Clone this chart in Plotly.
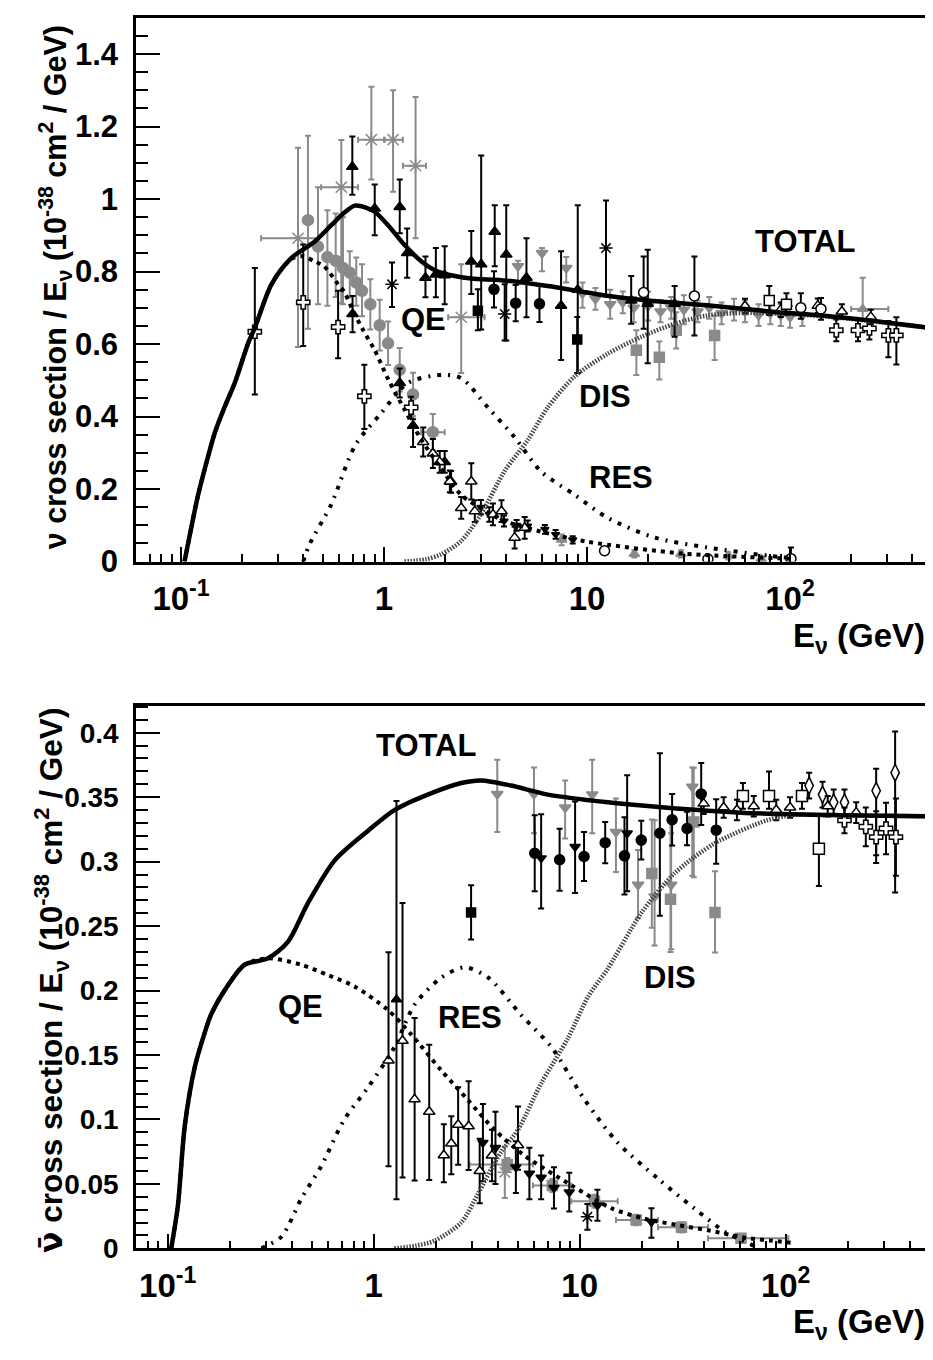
import plotly.graph_objects as go

# ---------------- TOP PANEL (neutrino) : model curves ----------------
top_total_E = [0.104, 0.112, 0.121, 0.133, 0.147, 0.165, 0.184, 0.214, 0.231, 0.279, 0.35, 0.456, 0.55, 0.63, 0.717,
               0.82, 0.9, 1.047, 1.26, 1.53, 1.84, 2.23, 2.69, 4.0, 6.4, 12, 20, 39, 80, 178, 518]
top_total_S = [0.0, 0.09, 0.18, 0.27, 0.357, 0.43, 0.493, 0.602, 0.645, 0.765, 0.838, 0.883, 0.928, 0.96, 0.982,
               0.976, 0.965, 0.928, 0.874, 0.828, 0.80, 0.788, 0.781, 0.775, 0.76, 0.735, 0.72, 0.707, 0.69, 0.674, 0.643]
top_qe_E = [0.104, 0.112, 0.121, 0.133, 0.147, 0.165, 0.184, 0.214, 0.231, 0.279, 0.35, 0.40, 0.455, 0.506, 0.594,
            0.64, 0.703, 0.79, 0.9, 1.05, 1.26, 1.52, 1.91, 2.4, 3.5, 4.0, 6.2, 10, 30, 100]
top_qe_S = [0.0, 0.09, 0.18, 0.27, 0.357, 0.43, 0.493, 0.602, 0.645, 0.765, 0.835, 0.842, 0.828, 0.815, 0.765,
            0.742, 0.692, 0.638, 0.583, 0.502, 0.42, 0.338, 0.257, 0.184, 0.125, 0.11, 0.08, 0.055, 0.022, 0.008]
top_res_E = [0.40, 0.43, 0.55, 0.72, 0.97, 1.31, 1.91, 2.4, 3.25, 4.4, 5.95, 8.7, 12.7, 21.6, 39, 78, 100]
top_res_S = [0.0, 0.048, 0.158, 0.32, 0.41, 0.493, 0.515, 0.506, 0.425, 0.343, 0.248, 0.184, 0.12, 0.066, 0.039,
             0.016, 0.01]
top_dis_E = [1.26, 1.6, 1.91, 2.4, 3.0, 3.93, 5.1, 6.4, 8.7, 12.7, 18.5, 27, 39, 60, 100, 178, 518]
top_dis_S = [0.0, 0.006, 0.02, 0.057, 0.13, 0.25, 0.335, 0.425, 0.511, 0.574, 0.62, 0.656, 0.679, 0.686, 0.683,
             0.672, 0.643]

# ---------------- TOP PANEL : data sets ----------------
t_gast_E = [0.377, 0.616, 0.866, 1.108, 1.43, 2.4]
t_gast_S = [0.892, 1.033, 1.164, 1.164, 1.092, 0.674]
t_gast_ep = [0.25, 0.13, 0.146, 0.136, 0.19, 0.146]
t_gast_em = [0.30, 0.32, 0.11, 0.144, 0.20, 0.154]
t_gast_xm = [0.129, 0.126, 0.121, 0.10, 0.19, 0.33]
t_gast_xp = [0.096, 0.129, 0.134, 0.13, 0.18, 0.73]

t_btri_E = [0.698, 0.9, 1.195, 1.30, 1.6, 1.8, 1.99, 2.69, 3.01, 3.51, 4.0, 5.03, 7.45, 9.0, 16.5, 19.9, 27.0,
            0.70, 1.195, 1.39, 1.99, 2.14]
t_btri_S = [1.089, 0.974, 0.978, 0.851, 0.783, 0.792, 0.79, 0.828, 0.82, 0.91, 0.847, 0.783, 0.706, 0.75, 0.72,
            0.711, 0.711, 0.683, 0.493, 0.375, 0.275, 0.22]
t_btri_ep = [0.084, 0.066, 0.076, 0.068, 0.059, 0.073, 0.08, 0.084, 0.30, 0.073, 0.136, 0.109, 0.15, 0.233, 0.068,
             0.149, 0.049, 0.05, 0.04, 0.018, 0.03, 0.03]
t_btri_em = [0.077, 0.074, 0.072, 0.068, 0.054, 0.063, 0.08, 0.09, 0.18, 0.095, 0.237, 0.109, 0.15, 0.23, 0.064,
             0.164, 0.091, 0.05, 0.04, 0.059, 0.03, 0.03]

t_gcir_E = [0.422, 0.473, 0.526, 0.578, 0.628, 0.678, 0.73, 0.779, 0.856, 0.952, 1.047, 1.195, 1.39, 1.74]
t_gcir_S = [0.942, 0.869, 0.84, 0.83, 0.81, 0.797, 0.77, 0.747, 0.71, 0.652, 0.602, 0.529, 0.461, 0.357]
t_gcir_ep = [0.233, 0.164, 0.129, 0.13, 0.14, 0.059, 0.069, 0.073, 0.069, 0.07, 0.06, 0.06, 0.06, 0.05]
t_gcir_em = [0.30, 0.159, 0.134, 0.10, 0.10, 0.068, 0.064, 0.07, 0.07, 0.07, 0.06, 0.06, 0.06, 0.05]
t_gcir_xm = [0, 0, 0, 0, 0, 0, 0, 0, 0, 0, 0, 0, 0, 0.22]
t_gcir_xp = [0, 0, 0, 0, 0, 0, 0, 0, 0, 0, 0, 0, 0, 0.25]

t_ocro_E = [0.231, 0.40, 0.594, 0.80, 1.36, 169, 216, 246, 305, 334]
t_ocro_S = [0.634, 0.715, 0.647, 0.456, 0.425, 0.638, 0.638, 0.643, 0.624, 0.624]
t_ocro_ep = [0.176, 0.16, 0.10, 0.087, 0.03, 0.03, 0.03, 0.03, 0.04, 0.05]
t_ocro_em = [0.173, 0.12, 0.086, 0.09, 0.03, 0.03, 0.03, 0.03, 0.06, 0.08]

t_otri_E = [1.56, 1.74, 1.88, 2.11, 2.4, 2.69, 2.8, 3.44, 3.79, 4.4, 4.93, 60, 90, 137, 180, 250]
t_otri_S = [0.33, 0.298, 0.275, 0.221, 0.148, 0.221, 0.139, 0.13, 0.139, 0.066, 0.093, 0.705, 0.695, 0.706, 0.69,
            0.675]
t_otri_e = [0.04, 0.04, 0.03, 0.03, 0.03, 0.05, 0.03, 0.03, 0.03, 0.03, 0.03, 0.02, 0.02, 0.02, 0.02, 0.02]

t_bcir_E = [3.48, 4.45, 5.83]
t_bcir_S = [0.751, 0.713, 0.711]
t_bcir_e = [0.05, 0.05, 0.05]

t_bsq_E = [2.9, 8.95]
t_bsq_S = [0.692, 0.613]
t_bsq_ep = [0.059, 0.062]
t_bsq_em = [0.054, 0.093]

t_gsq_E = [17.5, 22.7, 27.5, 42.5]
t_gsq_S = [0.583, 0.564, 0.638, 0.624]
t_gsq_ep = [0.055, 0.043, 0.05, 0.055]
t_gsq_em = [0.068, 0.062, 0.05, 0.068]

t_gtrd_E = [4.57, 6.0, 7.9, 9.5, 11, 13, 15, 17, 20, 23, 26, 30, 35, 40, 46, 53, 60, 70, 80, 90, 100, 115]
t_gtrd_S = [0.815, 0.851, 0.81, 0.74, 0.725, 0.71, 0.715, 0.70, 0.705, 0.69, 0.70, 0.695, 0.69, 0.70, 0.685, 0.695,
            0.69, 0.68, 0.685, 0.68, 0.675, 0.68]
t_gtrd_ep = [0.015, 0.014, 0.03, 0.03, 0.03, 0.04, 0.03, 0.03, 0.04, 0.03, 0.03, 0.04, 0.03, 0.03, 0.03, 0.03,
             0.03, 0.03, 0.03, 0.03, 0.03, 0.03]
t_gtrd_em = [0.05, 0.05, 0.04, 0.04, 0.03, 0.04, 0.03, 0.04, 0.04, 0.03, 0.03, 0.04, 0.03, 0.03, 0.03, 0.03,
             0.03, 0.03, 0.03, 0.03, 0.03, 0.03]

t_bast_E = [1.095, 3.93, 12.4]
t_bast_S = [0.765, 0.683, 0.865]
t_bast_ep = [0.06, 0.082, 0.131]
t_bast_em = [0.063, 0.073, 0.133]

t_ocir_E = [19.0, 33.8, 113, 142, 12.2, 39.4, 101]
t_ocir_S = [0.742, 0.733, 0.70, 0.697, 0.03, 0.007, 0.008]
t_ocir_ep = [0.10, 0.109, 0.04, 0.03, 0.01, 0.01, 0.031]
t_ocir_em = [0.10, 0.109, 0.03, 0.03, 0.01, 0.007, 0.008]

t_osq_E = [79, 96]
t_osq_S = [0.72, 0.71]
t_osq_e = [0.04, 0.03]

t_gtru_E = [228, 7.5, 17.1, 29, 49.6, 72]
t_gtru_S = [0.697, 0.06, 0.021, 0.021, 0.016, 0.007]
t_gtru_ep = [0.086, 0.015, 0.01, 0.01, 0.01, 0.007]
t_gtru_em = [0.03, 0.015, 0.01, 0.01, 0.01, 0.007]
t_gtru_xm = [28, 0, 0, 0, 0, 0]
t_gtru_xp = [77, 0, 0, 0, 0, 0]

t_btrd_E = [3.0, 3.3, 3.9, 4.5, 5.1, 6.2, 7.0, 8.5]
t_btrd_S = [0.15, 0.13, 0.112, 0.1, 0.098, 0.089, 0.075, 0.06]
t_btrd_e = [0.02, 0.02, 0.015, 0.015, 0.015, 0.012, 0.012, 0.01]

# ---------------- BOTTOM PANEL (antineutrino) : model curves ----------------
bot_total_E = [0.104, 0.112, 0.121, 0.135, 0.151, 0.163, 0.196, 0.236, 0.307, 0.384, 0.48, 0.647, 0.94, 1.26, 1.83,
               2.66, 3.33, 4.65, 7.0, 13.7, 25.8, 60.7, 185, 531]
bot_total_S = [0.0, 0.033, 0.095, 0.140, 0.167, 0.182, 0.204, 0.22, 0.225, 0.238, 0.268, 0.301, 0.324, 0.34, 0.352,
               0.361, 0.363, 0.359, 0.352, 0.346, 0.342, 0.338, 0.336, 0.335]
bot_qe_E = [0.104, 0.112, 0.121, 0.135, 0.151, 0.163, 0.196, 0.236, 0.307, 0.445, 0.6, 0.81, 1.17, 1.52, 2.13, 2.87,
            3.86, 5.4, 9.1, 14.3, 20.7, 30, 42, 65, 85, 110]
bot_qe_S = [0.0, 0.033, 0.095, 0.140, 0.167, 0.182, 0.204, 0.22, 0.225, 0.22, 0.212, 0.203, 0.185, 0.166, 0.138,
            0.115, 0.092, 0.072, 0.049, 0.031, 0.023, 0.018, 0.014, 0.008, 0.006, 0.004]
bot_res_E = [0.285, 0.356, 0.445, 0.557, 0.72, 0.94, 1.26, 1.58, 2.13, 2.76, 3.6, 5.2, 7.3, 10.6, 15.3, 24, 36, 50.5,
             60, 70]
bot_res_S = [0.0, 0.009, 0.0385, 0.064, 0.1, 0.125, 0.156, 0.189, 0.21, 0.218, 0.21, 0.181, 0.156, 0.115, 0.082,
             0.054, 0.031, 0.013, 0.007, 0.002]
bot_dis_E = [1.26, 1.6, 1.98, 2.66, 3.2, 4.16, 5.02, 6.5, 8.77, 10.97, 13.7, 19.9, 28.9, 45, 81, 106, 185, 531]
bot_dis_S = [0.0, 0.002, 0.006, 0.02, 0.042, 0.075, 0.092, 0.128, 0.163, 0.195, 0.217, 0.26, 0.291, 0.314, 0.332,
             0.336, 0.336, 0.335]

# ---------------- BOTTOM PANEL : data sets ----------------
b_gtrd_E = [3.98, 6.0, 8.5, 11.5, 15.0, 19.2, 23.1, 27.8, 35.2]
b_gtrd_S = [0.3525, 0.3525, 0.342, 0.352, 0.323, 0.282, 0.273, 0.282, 0.358]
b_gtrd_ep = [0.0265, 0.0205, 0.021, 0.027, 0.026, 0.027, 0.059, 0.04, 0.015]
b_gtrd_em = [0.0295, 0.0305, 0.024, 0.03, 0.031, 0.026, 0.038, 0.05, 0.069]

b_bcir_E = [6.05, 7.99, 10.5, 13.3, 16.5, 19.9, 24.5, 28.1, 33.2, 38.9, 46]
b_bcir_S = [0.3065, 0.3015, 0.304, 0.3147, 0.3045, 0.3167, 0.322, 0.3325, 0.3257, 0.3525, 0.3244]
b_bcir_ep = [0.0295, 0.024, 0.019, 0.016, 0.03, 0.015, 0.062, 0.02, 0.013, 0.024, 0.024]
b_bcir_em = [0.0295, 0.024, 0.019, 0.016, 0.03, 0.015, 0.064, 0.02, 0.013, 0.024, 0.026]

b_btrd_E = [6.5, 9.5, 17.0, 3.39, 3.9, 4.9, 5.7, 6.5, 7.5, 8.9, 12.2, 22.3]
b_btrd_S = [0.3027, 0.3116, 0.322, 0.082, 0.078, 0.063, 0.058, 0.055, 0.047, 0.0436, 0.0335, 0.0207]
b_btrd_ep = [0.034, 0.035, 0.045, 0.03, 0.028, 0.02, 0.02, 0.017, 0.016, 0.015, 0.012, 0.0105]
b_btrd_em = [0.039, 0.036, 0.045, 0.03, 0.028, 0.02, 0.02, 0.017, 0.016, 0.015, 0.012, 0.0125]

b_bsq_E = [2.97]
b_bsq_S = [0.2606]
b_bsq_e = [0.021]

b_gsq_E = [22.4, 27.6, 35.8, 45.4]
b_gsq_S = [0.2907, 0.2708, 0.3308, 0.2606]
b_gsq_ep = [0.042, 0.061, 0.042, 0.032]
b_gsq_em = [0.042, 0.041, 0.043, 0.031]

b_gsqx_E = [4.45, 7.37, 11.8, 18.8, 31.2, 60.7]
b_gsqx_S = [0.065, 0.0488, 0.0365, 0.022, 0.0163, 0.0079]
b_gsqx_e = [0.005, 0.005, 0.005, 0.004, 0.004, 0.003]
b_gsqx_xm = [1.53, 1.44, 2.7, 3.8, 7.2, 18.7]
b_gsqx_xp = [1.48, 1.73, 3.5, 5.2, 10.8, 42.3]

b_osq_E = [62, 83, 120, 145]
b_osq_S = [0.351, 0.351, 0.351, 0.31]
b_osq_ep = [0.01, 0.019, 0.01, 0.026]
b_osq_em = [0.01, 0.01, 0.01, 0.029]

b_odia_E = [130, 151, 171, 193, 275, 340]
b_odia_S = [0.359, 0.352, 0.346, 0.346, 0.355, 0.369]
b_odia_ep = [0.01, 0.01, 0.01, 0.01, 0.017, 0.032]
b_odia_em = [0.01, 0.01, 0.01, 0.01, 0.05, 0.093]

b_ocro_E = [193, 245, 275, 307, 343]
b_ocro_S = [0.332, 0.327, 0.319, 0.3257, 0.319]
b_ocro_e = [0.01, 0.015, 0.02, 0.02, 0.03]

b_otri_E = [40, 50, 58, 70, 90, 105, 160, 220, 1.18, 1.38, 1.58, 1.86, 2.19, 2.38, 2.57, 2.89, 3.27, 3.75, 5.02]
b_otri_S = [0.345, 0.342, 0.34, 0.343, 0.34, 0.342, 0.343, 0.338, 0.1457, 0.161, 0.1156, 0.106, 0.0722, 0.0814,
            0.0959, 0.0947, 0.06, 0.072, 0.08]
b_otri_ep = [0.008, 0.008, 0.008, 0.008, 0.008, 0.008, 0.008, 0.008, 0.084, 0.107, 0.063, 0.052, 0.024, 0.021,
             0.029, 0.035, 0.025, 0.02, 0.03]
b_otri_em = [0.008, 0.008, 0.008, 0.008, 0.008, 0.008, 0.008, 0.008, 0.082, 0.106, 0.063, 0.053, 0.021, 0.024,
             0.031, 0.034, 0.025, 0.02, 0.019]

b_btri_E = [1.29]
b_btri_S = [0.193]
b_btri_ep = [0.154]
b_btri_em = [0.155]

b_gast_E = [4.33]
b_gast_S = [0.059]
b_gast_e = [0.02]
b_bast_E = [10.9]
b_bast_S = [0.0245]
b_bast_e = [0.01]

# axis ticks
x_major = [0.1, 1, 10, 100]
x_major_text = ["10<sup>-1</sup>", "1", "10", "10<sup>2</sup>"]
x_minor = [0.07, 0.08, 0.09] + [m * 10 ** d for d in (-1, 0, 1, 2) for m in range(2, 10)]
top_y_major = [0, 0.2, 0.4, 0.6, 0.8, 1.0, 1.2, 1.4]
top_y_text = ["0", "0.2", "0.4", "0.6", "0.8", "1", "1.2", "1.4"]
bot_y_major = [0, 0.05, 0.1, 0.15, 0.2, 0.25, 0.3, 0.35, 0.4]
bot_y_text = ["0", "0.05", "0.1", "0.15", "0.2", "0.25", "0.3", "0.35", "0.4"]

GRAY = "#8a8a8a"
BLACK = "#000000"
FONT = "Liberation Sans, Arial, Helvetica, sans-serif"

fig = go.Figure()


def pts(xa, ya, E, S, ep, em, symbol, lcolor, fill, size=10, xm=None, xp=None, lw=1.5):
    tr = dict(x=E, y=S, xaxis=xa, yaxis=ya, mode="markers", showlegend=False, hoverinfo="skip",
              marker=dict(symbol=symbol, size=size, color=fill, line=dict(color=lcolor, width=lw)),
              error_y=dict(type="data", symmetric=False, array=ep, arrayminus=em, color=lcolor,
                           thickness=2, width=3))
    if xm is not None:
        tr["error_x"] = dict(type="data", symmetric=False, array=xp, arrayminus=xm, color=lcolor,
                             thickness=2, width=3)
    fig.add_trace(go.Scatter(**tr))


def curve(xa, ya, E, S, dash, width, color):
    fig.add_trace(go.Scatter(x=E, y=S, xaxis=xa, yaxis=ya, mode="lines", showlegend=False, hoverinfo="skip",
                             line=dict(color=color, width=width, dash=dash, shape="spline", smoothing=0.8)))


# ---- top data
pts("x", "y", t_gast_E, t_gast_S, t_gast_ep, t_gast_em, "asterisk-open", GRAY, GRAY, 13, t_gast_xm, t_gast_xp)
pts("x", "y", t_gtrd_E, t_gtrd_S, t_gtrd_ep, t_gtrd_em, "triangle-down", GRAY, GRAY, 10)
pts("x", "y", t_gcir_E, t_gcir_S, t_gcir_ep, t_gcir_em, "circle", GRAY, GRAY, 11, t_gcir_xm, t_gcir_xp)
pts("x", "y", t_gsq_E, t_gsq_S, t_gsq_ep, t_gsq_em, "square", GRAY, GRAY, 10)
pts("x", "y", t_gtru_E, t_gtru_S, t_gtru_ep, t_gtru_em, "triangle-up", GRAY, GRAY, 9, t_gtru_xm, t_gtru_xp)
pts("x", "y", t_btri_E, t_btri_S, t_btri_ep, t_btri_em, "triangle-up", BLACK, BLACK, 10)
pts("x", "y", t_btrd_E, t_btrd_S, t_btrd_e, t_btrd_e, "triangle-down", BLACK, BLACK, 7)
pts("x", "y", t_bcir_E, t_bcir_S, t_bcir_e, t_bcir_e, "circle", BLACK, BLACK, 10)
pts("x", "y", t_bsq_E, t_bsq_S, t_bsq_ep, t_bsq_em, "square", BLACK, BLACK, 9)
pts("x", "y", t_bast_E, t_bast_S, t_bast_ep, t_bast_em, "asterisk-open", BLACK, BLACK, 11)
pts("x", "y", t_ocro_E, t_ocro_S, t_ocro_ep, t_ocro_em, "cross", BLACK, "white", 11)
pts("x", "y", t_otri_E, t_otri_S, t_otri_e, t_otri_e, "triangle-up", BLACK, "white", 10)
pts("x", "y", t_ocir_E, t_ocir_S, t_ocir_ep, t_ocir_em, "circle", BLACK, "white", 10)
pts("x", "y", t_osq_E, t_osq_S, t_osq_e, t_osq_e, "square", BLACK, "white", 10)
# ---- top curves
curve("x", "y", top_dis_E, top_dis_S, "1.5px,1.5px", 4.5, "#444444")
curve("x", "y", top_res_E, top_res_S, "4px,7px,2px,7px", 4, BLACK)
curve("x", "y", top_qe_E, top_qe_S, "4px,5px", 4, BLACK)
curve("x", "y", top_total_E, top_total_S, "solid", 4.5, BLACK)

# ---- bottom data
pts("x2", "y2", b_gtrd_E, b_gtrd_S, b_gtrd_ep, b_gtrd_em, "triangle-down", GRAY, GRAY, 10)
pts("x2", "y2", b_gsq_E, b_gsq_S, b_gsq_ep, b_gsq_em, "square", GRAY, GRAY, 10)
pts("x2", "y2", b_gsqx_E, b_gsqx_S, b_gsqx_e, b_gsqx_e, "square", GRAY, GRAY, 10, b_gsqx_xm, b_gsqx_xp)
pts("x2", "y2", b_gast_E, b_gast_S, b_gast_e, b_gast_e, "asterisk-open", GRAY, GRAY, 12)
pts("x2", "y2", b_bcir_E, b_bcir_S, b_bcir_ep, b_bcir_em, "circle", BLACK, BLACK, 10)
pts("x2", "y2", b_btrd_E, b_btrd_S, b_btrd_ep, b_btrd_em, "triangle-down", BLACK, BLACK, 9)
pts("x2", "y2", b_bsq_E, b_bsq_S, b_bsq_e, b_bsq_e, "square", BLACK, BLACK, 9)
pts("x2", "y2", b_bast_E, b_bast_S, b_bast_e, b_bast_e, "asterisk-open", BLACK, BLACK, 11)
pts("x2", "y2", b_btri_E, b_btri_S, b_btri_ep, b_btri_em, "triangle-up", BLACK, BLACK, 9)
pts("x2", "y2", b_osq_E, b_osq_S, b_osq_ep, b_osq_em, "square", BLACK, "white", 11)
pts("x2", "y2", b_odia_E, b_odia_S, b_odia_ep, b_odia_em, "diamond-tall", BLACK, "white", 12)
pts("x2", "y2", b_ocro_E, b_ocro_S, b_ocro_e, b_ocro_e, "cross", BLACK, "white", 11)
pts("x2", "y2", b_otri_E, b_otri_S, b_otri_ep, b_otri_em, "triangle-up", BLACK, "white", 10)
# ---- bottom curves
curve("x2", "y2", bot_dis_E, bot_dis_S, "1.5px,1.5px", 4.5, "#444444")
curve("x2", "y2", bot_res_E, bot_res_S, "4px,7px,2px,7px", 4, BLACK)
curve("x2", "y2", bot_qe_E, bot_qe_S, "4px,5px", 4, BLACK)
curve("x2", "y2", bot_total_E, bot_total_S, "solid", 4.5, BLACK)

W, H = 933, 1360
xdom = [128 / W, 927 / W]
top_dom = [1 - 561 / H, 1 - 10 / H]
bot_dom = [1 - 1257 / H, 1 - 707 / H]

xtickfont = dict(family=FONT, size=33, color="black", weight="bold")
top_ytickfont = dict(family=FONT, size=31, color="black", weight="bold")
bot_ytickfont = dict(family=FONT, size=28, color="black", weight="bold")


def xaxis_cfg(anchor, rng):
    return dict(domain=xdom, anchor=anchor, type="log", range=rng, showgrid=False, zeroline=False,
                showline=True, linecolor="black", linewidth=2.5, mirror=True,
                tickmode="array", tickvals=x_major, ticktext=x_major_text, ticks="inside",
                ticklen=15, tickwidth=2, tickcolor="black", tickfont=xtickfont, ticklabelstandoff=6,
                minor=dict(tickmode="array", tickvals=x_minor, ticks="inside", ticklen=8,
                           tickwidth=2, tickcolor="black", showgrid=False))


def yaxis_cfg(anchor, dom, rng, vals, texts, minor_vals, tf):
    return dict(domain=dom, anchor=anchor, range=rng, showgrid=False, zeroline=False,
                showline=True, linecolor="black", linewidth=2.5, mirror=True,
                tickmode="array", tickvals=vals, ticktext=texts, ticks="inside", ticklen=24,
                tickwidth=2, tickcolor="black", tickfont=tf, ticklabelstandoff=9,
                minor=dict(tickmode="array", tickvals=minor_vals, ticks="inside", ticklen=12,
                           tickwidth=2, tickcolor="black", showgrid=False))


top_minor = [round(0.05 * i, 3) for i in range(0, 31)]
bot_minor = [round(0.01 * i, 3) for i in range(0, 43)]

fig.update_layout(
    width=W, height=H, margin=dict(l=0, r=0, t=0, b=0),
    paper_bgcolor="white", plot_bgcolor="white",
    xaxis=xaxis_cfg("y", [-1.2217, 2.714]),
    yaxis=yaxis_cfg("x", top_dom, [0, 1.5], top_y_major, top_y_text, top_minor, top_ytickfont),
    xaxis2=xaxis_cfg("y2", [-1.154, 2.725]),
    yaxis2=yaxis_cfg("x2", bot_dom, [0, 0.421], bot_y_major, bot_y_text, bot_minor, bot_ytickfont),
)

lab = dict(family=FONT, size=31, color="black", weight="bold")
ann = [
    dict(x=2.074, y=0.882, xref="x", yref="y", text="TOTAL"),
    dict(x=0.192, y=0.667, xref="x", yref="y", text="QE"),
    dict(x=1.089, y=0.455, xref="x", yref="y", text="DIS"),
    dict(x=1.167, y=0.231, xref="x", yref="y", text="RES"),
    dict(x=0.254, y=0.3897, xref="x2", yref="y2", text="TOTAL"),
    dict(x=-0.353, y=0.188, xref="x2", yref="y2", text="QE"),
    dict(x=0.467, y=0.179, xref="x2", yref="y2", text="RES"),
    dict(x=1.438, y=0.21, xref="x2", yref="y2", text="DIS"),
]
for a in ann:
    fig.add_annotation(showarrow=False, font=lab, xanchor="center", yanchor="middle", **a)

xt = dict(family=FONT, size=33, color="black", weight="bold")
fig.add_annotation(x=851 / W, y=1 - 638 / H, xref="paper", yref="paper", showarrow=False,
                   text="E<sub>ν</sub> (GeV)", font=xt, xanchor="center", yanchor="middle")
fig.add_annotation(x=851 / W, y=1 - 1334 / H, xref="paper", yref="paper", showarrow=False,
                   text="E<sub>ν</sub> (GeV)", font=xt, xanchor="center", yanchor="middle")

fig.add_annotation(x=47 / W, y=1 - 283 / H, xref="paper", yref="paper", showarrow=False, textangle=-90,
                   text="ν cross section / E<sub>ν</sub> (10<sup>-38</sup> cm<sup>2</sup> / GeV)",
                   font=dict(family=FONT, size=30.5, color="black", weight="bold"),
                   xanchor="center", yanchor="middle")
fig.add_annotation(x=44 / W, y=1 - 986 / H, xref="paper", yref="paper", showarrow=False, textangle=-90,
                   text="<span style=\"font-family:'DejaVu Sans'\">ν\u0304</span> cross section / "
                        "E<sub>ν</sub> (10<sup>-38</sup> cm<sup>2</sup> / GeV)",
                   font=dict(family=FONT, size=31.5, color="black", weight="bold"),
                   xanchor="center", yanchor="middle")

fig.write_html("out.html")
